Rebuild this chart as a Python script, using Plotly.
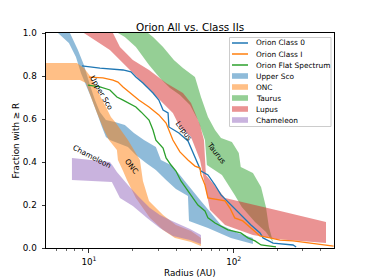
import numpy as np
import plotly.graph_objects as go

# ---------------- data (radius in AU, fraction with >= R) ----------------
# Bands (upper / lower bounds)
usco_up_r = [6.11, 7.39, 8.39, 9.23, 10.16, 11.0, 11.9, 13.1, 15.1, 17.7, 20.45, 24.0, 29.0, 31.4, 36.9, 42.5, 48.3, 59.4, 69.7, 81.7, 106.7, 135.8]
usco_up_f = [1.0, 1.0, 0.921, 0.851, 0.758, 0.688, 0.633, 0.595, 0.586, 0.572, 0.535, 0.502, 0.470, 0.409, 0.386, 0.340, 0.293, 0.219, 0.163, 0.107, 0.070, 0.047]
usco_lo_r = [6.11, 7.27, 8.13, 8.80, 10.32, 11.36, 12.3, 13.1, 13.96, 18.6, 21.1, 24.8, 29.0, 34.1, 39.9, 48.3, 49.1, 66.4, 95.7, 135.8]
usco_lo_f = [1.0, 0.953, 0.888, 0.814, 0.702, 0.628, 0.563, 0.516, 0.502, 0.470, 0.433, 0.395, 0.363, 0.316, 0.274, 0.242, 0.126, 0.093, 0.047, 0.019]

onc_up_r = [5.05, 8.26, 9.23, 10.32, 11.36, 13.1, 14.19, 15.36, 18.6, 22.5, 23.6, 26.0, 32.5, 39.9, 50.7, 59.4]
onc_up_f = [0.860, 0.860, 0.837, 0.795, 0.735, 0.656, 0.609, 0.581, 0.502, 0.409, 0.312, 0.219, 0.153, 0.107, 0.079, 0.047]
onc_lo_r = [5.05, 8.66, 9.53, 10.32, 11.36, 12.69, 13.74, 15.6, 15.86, 17.2, 18.3, 21.1, 26.4, 32.5, 39.3, 50.7, 59.4]
onc_lo_f = [0.781, 0.781, 0.767, 0.702, 0.628, 0.549, 0.502, 0.456, 0.409, 0.358, 0.316, 0.233, 0.140, 0.084, 0.047, 0.028, 0.009]

tau_up_r = [15.86, 25.6, 27.7, 32.5, 38.6, 44.6, 54.0, 59.4, 66.4, 74.3, 81.7, 97.2, 108.4, 111.9, 135.8, 154.5, 167, 175, 187, 193]
tau_up_f = [1.0, 1.0, 0.981, 0.935, 0.874, 0.837, 0.795, 0.702, 0.609, 0.549, 0.512, 0.493, 0.442, 0.377, 0.349, 0.284, 0.191, 0.098, 0.028, 0.014]
tau_lo_r = [15.86, 17.7, 21.1, 26.0, 30.9, 36.3, 42.5, 49.9, 56.6, 63.3, 65.3, 83.0, 101.6, 113.7, 140.3, 167, 193]
tau_lo_f = [1.0, 0.981, 0.935, 0.851, 0.791, 0.744, 0.712, 0.665, 0.595, 0.502, 0.386, 0.340, 0.247, 0.191, 0.121, 0.074, 0.014]

lup_up_r = [9.23, 14.65, 16.38, 20.1, 26.0, 34.1, 44.6, 50.7, 58.5, 62.3, 64.3, 87.1, 106.7, 196, 434]
lup_up_f = [1.0, 1.0, 0.935, 0.874, 0.828, 0.767, 0.721, 0.674, 0.572, 0.502, 0.340, 0.233, 0.219, 0.177, 0.121]
lup_lo_r = [9.23, 13.96, 18.3, 23.6, 30.9, 38.0, 42.5, 50.7, 58.5, 63.3, 68.6, 87.1, 135.8, 196, 434]
lup_lo_f = [1.0, 0.921, 0.842, 0.767, 0.688, 0.628, 0.563, 0.516, 0.409, 0.293, 0.177, 0.107, 0.060, 0.042, 0.023]

cha_up_r = [7.63, 13.96, 14.65, 15.6, 18.6, 21.8, 26.4, 30.9, 37.5, 49.9, 59.4]
cha_up_f = [0.419, 0.400, 0.381, 0.353, 0.293, 0.242, 0.186, 0.153, 0.126, 0.088, 0.060]
cha_lo_r = [7.63, 14.4, 15.36, 16.38, 20.1, 25.2, 30.9, 38.0, 49.9, 59.4]
cha_lo_f = [0.316, 0.307, 0.270, 0.233, 0.195, 0.140, 0.093, 0.056, 0.037, 0.019]

# Lines
c0_r = [8.94, 11.91, 17.2, 19.5, 21.1, 23.6, 27.7, 30.4, 32.5, 35.2, 35.7, 38.6, 41.8, 48.3, 54.0, 59.4, 66.4, 74.3, 81.7, 95.7, 111.9, 131.6, 152, 159.4, 187, 257, 270]
c0_f = [0.847, 0.837, 0.828, 0.819, 0.795, 0.767, 0.721, 0.688, 0.642, 0.628, 0.563, 0.549, 0.535, 0.498, 0.419, 0.358, 0.340, 0.293, 0.247, 0.200, 0.153, 0.107, 0.070, 0.047, 0.023, 0.014, 0.005]

c1_r = [10.0, 12.49, 14.65, 15.86, 17.2, 18.9, 22.1, 26.0, 30.4, 34.1, 35.7, 38.0, 42.5, 48.3, 54.0, 58.5, 59.4, 63.3, 66.4, 78.1, 87.1, 94.2, 101.6, 115.5, 131.6, 152, 178, 209, 257, 337, 441, 490]
c1_f = [0.795, 0.791, 0.781, 0.772, 0.749, 0.726, 0.688, 0.656, 0.619, 0.581, 0.549, 0.502, 0.447, 0.409, 0.381, 0.372, 0.340, 0.293, 0.233, 0.223, 0.219, 0.186, 0.140, 0.126, 0.093, 0.056, 0.047, 0.037, 0.033, 0.023, 0.014, 0.009]

fs_r = [9.84, 11.91, 13.96, 15.6, 17.2, 18.9, 21.1, 22.9, 24.8, 26.0, 27.7, 29.0, 32.5, 34.1, 36.9, 39.9, 43.2, 46.8, 50.7, 56.6, 63.3, 66.4, 74.3, 91.2, 111.9, 125.3, 140.3, 154.5, 196]
fs_f = [0.758, 0.749, 0.735, 0.702, 0.688, 0.674, 0.656, 0.633, 0.609, 0.595, 0.549, 0.502, 0.465, 0.419, 0.386, 0.358, 0.312, 0.279, 0.251, 0.200, 0.172, 0.140, 0.116, 0.084, 0.070, 0.047, 0.033, 0.014, 0.005]

x_tickvals = [10, 100]
x_ticktext = ["10<sup>1</sup>", "10<sup>2</sup>"]
x_minor = [6, 7, 8, 9, 20, 30, 40, 50, 60, 70, 80, 90, 200, 300, 400]
y_tickvals = [0.0, 0.2, 0.4, 0.6, 0.8, 1.0]

BLUE, ORANGE, GREEN, RED, PURPLE = "#1f77b4", "#ff7f0e", "#2ca02c", "#d62728", "#9467bd"

def rgba(h, a):
    h = h.lstrip("#")
    return "rgba(%d,%d,%d,%.2f)" % (int(h[0:2], 16), int(h[2:4], 16), int(h[4:6], 16), a)

bands = [
    ("Upper Sco", BLUE, usco_up_r, usco_up_f, usco_lo_r, usco_lo_f),
    ("ONC", ORANGE, onc_up_r, onc_up_f, onc_lo_r, onc_lo_f),
    ("Taurus", GREEN, tau_up_r, tau_up_f, tau_lo_r, tau_lo_f),
    ("Lupus", RED, lup_up_r, lup_up_f, lup_lo_r, lup_lo_f),
    ("Chameleon", PURPLE, cha_up_r, cha_up_f, cha_lo_r, cha_lo_f),
]
lines = [
    ("Orion Class 0", BLUE, c0_r, c0_f),
    ("Orion Class I", ORANGE, c1_r, c1_f),
    ("Orion Flat Spectrum", GREEN, fs_r, fs_f),
]

fig = go.Figure()
for name, col, ur, uf, lr, lf in bands:
    fig.add_trace(go.Scatter(
        x=list(ur) + list(lr)[::-1], y=list(uf) + list(lf)[::-1],
        fill="toself", fillcolor=rgba(col, 0.5), mode="none",
        name=name, showlegend=False, hoverinfo="skip"))
for name, col, r, f in lines:
    fig.add_trace(go.Scatter(x=r, y=f, mode="lines", name=name,
                             line=dict(color=col, width=1.3), showlegend=False))

FONT = "DejaVu Sans, Verdana, sans-serif"
L, R, T, B, W, H = 46, 38, 33, 31, 372, 279
PW, PH = W - L - R, H - T - B

def px(xp):
    return (xp - L) / PW

def py(yp):
    return (T + PH - yp) / PH

annotations = []
shapes = []

# Title and axis titles
annotations.append(dict(text="Orion All vs. Class IIs", xref="paper", yref="paper",
                        x=0.5, y=py(27), xanchor="center", yanchor="middle",
                        showarrow=False, font=dict(family=FONT, size=10.4, color="black")))
annotations.append(dict(text="Radius (AU)", xref="paper", yref="paper",
                        x=0.5, y=py(273), xanchor="center", yanchor="middle",
                        showarrow=False, font=dict(family=FONT, size=8.8, color="black")))
annotations.append(dict(text="Fraction with \u2265 R", xref="paper", yref="paper",
                        x=px(15), y=0.5, xanchor="center", yanchor="middle", textangle=-90,
                        showarrow=False, font=dict(family=FONT, size=8.8, color="black")))

# In-plot labels (R, F, angle)
labels = [("Upper Sco", 12.1, 0.721, 60), ("ONC", 19.7, 0.378, 53),
          ("Chameleon", 10.44, 0.425, 27), ("Lupus", 45.7, 0.544, 54),
          ("Taurus", 75.5, 0.444, 52)]
for txt, rr, ff, ang in labels:
    annotations.append(dict(text=txt, xref="x", yref="y", x=np.log10(rr), y=ff,
                            textangle=ang, showarrow=False, xanchor="center", yanchor="middle",
                            font=dict(family=FONT, size=7.4, color="black")))

# Custom legend
shapes.append(dict(type="rect", xref="paper", yref="paper",
                   x0=px(229.5), x1=px(331), y0=py(37.5), y1=py(126.5),
                   line=dict(color="#cccccc", width=1), fillcolor="rgba(255,255,255,0.8)", layer="above"))
entries = [(n, c, "line") for n, c, _, _ in lines] + [(b[0], b[1], "patch") for b in bands]
for i, (name, col, kind) in enumerate(entries):
    yc = 43 + i * 11
    if kind == "line":
        shapes.append(dict(type="line", xref="paper", yref="paper",
                           x0=px(232), x1=px(248), y0=py(yc), y1=py(yc),
                           line=dict(color=col, width=1.5), layer="above"))
    else:
        shapes.append(dict(type="rect", xref="paper", yref="paper",
                           x0=px(232), x1=px(248), y0=py(yc - 2.8), y1=py(yc + 2.8),
                           line=dict(width=0), fillcolor=rgba(col, 0.5), layer="above"))
    annotations.append(dict(text=name, xref="paper", yref="paper", x=px(253.5), y=py(yc),
                            xanchor="left", yanchor="middle", showarrow=False,
                            font=dict(family=FONT, size=7.4, color="black")))

fig.update_layout(
    width=W, height=H, margin=dict(l=L, r=R, t=T, b=B),
    plot_bgcolor="white", paper_bgcolor="white",
    font=dict(family=FONT, size=8.8, color="black"),
    annotations=annotations, shapes=shapes, showlegend=False,
    xaxis=dict(type="log", range=[np.log10(5.05), np.log10(493)],
               tickmode="array", tickvals=x_tickvals, ticktext=x_ticktext,
               ticks="outside", ticklen=3.5, tickwidth=0.8, tickcolor="black",
               showline=True, linecolor="black", linewidth=1, mirror=True,
               showgrid=False, zeroline=False, ticklabelstandoff=2,
               tickfont=dict(family=FONT, size=8.8, color="black"),
               minor=dict(tickmode="array", tickvals=x_minor, ticks="outside", ticklen=2,
                          tickwidth=0.6, tickcolor="black", showgrid=False)),
    yaxis=dict(range=[0, 1], tickmode="array", tickvals=y_tickvals,
               ticktext=["%.1f" % v for v in y_tickvals],
               ticks="outside", ticklen=3.5, tickwidth=0.8, tickcolor="black",
               showline=True, linecolor="black", linewidth=1, mirror=True,
               showgrid=False, zeroline=False, ticklabelstandoff=3,
               tickfont=dict(family=FONT, size=8.8, color="black")),
)

fig.write_html("out.html", config={"displayModeBar": False, "staticPlot": True},
               post_script="document.body.style.margin='0px';")
